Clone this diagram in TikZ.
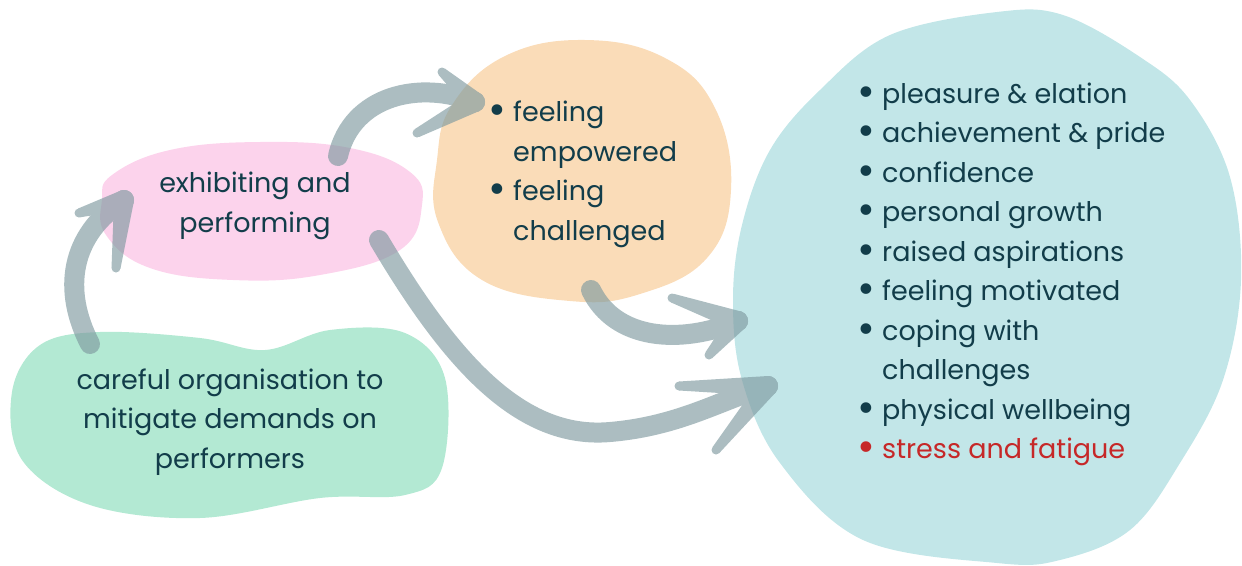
\documentclass[tikz,border=0pt]{standalone}
\usepackage{fontspec}
\usepackage{graphicx}
\setmainfont{Poppins}
\usetikzlibrary{calc}
\definecolor{txt}{HTML}{123D4A}
\definecolor{redtxt}{HTML}{C62828}
\definecolor{blobgreen}{HTML}{B3E9D3}
\definecolor{blobpink}{HTML}{FCD3EC}
\definecolor{bloborange}{HTML}{FADCB8}
\definecolor{blobteal}{HTML}{C2E6E8}
\definecolor{arrowgray}{HTML}{7F9AA0}
\newcommand\mybul{\makebox[20pt][l]{\hspace{-5pt}\raisebox{-3pt}{\scalebox{1.6}{\textbullet}}}}
\tikzset{
  lbl/.style={text=txt, font=\fontsize{27}{39.5}\selectfont, inner sep=0pt},
  shaft/.style={draw=arrowgray, line width=20pt, line cap=round},
  arrowgrp/.style={transparency group, opacity=0.65}
}
\newcommand\taperbarb[2]{%
  \fill[arrowgray] ($(#1)!10pt!90:(#2)$) -- ($(#2)!4.5pt!-90:(#1)$) -- ($(#2)!4.5pt!90:(#1)$) -- ($(#1)!10pt!-90:(#2)$) -- cycle;
  \fill[arrowgray] (#2) circle (4.5pt);
  \fill[arrowgray] (#1) circle (10pt);}
\newcommand\headat[3]{\taperbarb{#1}{#2}\taperbarb{#1}{#3}}
\begin{document}
\begin{tikzpicture}[x=1pt,y=-1pt]
\useasboundingbox (0,0) rectangle (1242,565);
% blobs
\fill[blobgreen] plot[smooth cycle, tension=0.6] coordinates {(100,332) (200,338) (265,350) (330,330) (405,333) (445,378) (442,468) (405,495) (320,498) (200,518) (90,505) (22,460) (12,392) (40,345)};
\fill[blobpink] plot[smooth cycle, tension=0.7] coordinates {(112,175) (170,150) (260,142) (350,148) (410,172) (422,205) (400,250) (320,275) (233,280) (150,268) (106,235) (102,200)};
\fill[bloborange] plot[smooth cycle, tension=0.7] coordinates {(452,105) (505,56) (585,40) (665,58) (715,108) (731,190) (707,258) (640,294) (570,301) (482,280) (438,222) (437,160)};
\fill[blobteal] plot[smooth cycle, tension=0.6] coordinates {(742,225) (770,150) (820,90) (890,35) (997,12) (1063,15) (1140,57) (1190,100) (1230,177) (1241,280) (1223,380) (1180,463) (1130,530) (1060,560) (997,563) (863,540) (780,463) (742,380) (733,300)};
% texts
\node[lbl, align=center] (green) at (230,422) {careful organisation to\\mitigate demands on\\performers};
\node[lbl, align=center] (pink) at (255,206) {exhibiting and\\performing};
\node[lbl, anchor=north west] (orange) at (493,94) {%
\begin{tabular}{@{}l@{}l@{}}
\mybul & feeling\\
 & empowered\\
\mybul & feeling\\
 & challenged
\end{tabular}};
\node[lbl, anchor=north west] (teal) at (862,75.5) {%
\begin{tabular}{@{}l@{}l@{}}
\mybul & pleasure \& elation\\
\mybul & achievement \& pride\\
\mybul & confidence\\
\mybul & personal growth\\
\mybul & raised aspirations\\
\mybul & feeling motivated\\
\mybul & coping with\\
 & challenges\\
\mybul & physical wellbeing\\
\color{redtxt}\mybul & \color{redtxt}stress and fatigue
\end{tabular}};
% arrow coordinates
\coordinate (a1s) at (90,344);
\coordinate (a1t) at (124,200);
\coordinate (a1b1) at (79,213);
\coordinate (a1b2) at (116,268);
\coordinate (a2s) at (338,156);
\coordinate (a2t) at (475,102);
\coordinate (a2b1) at (442,72);
\coordinate (a2b2) at (417,133);
\coordinate (a3s) at (591,290);
\coordinate (a3t) at (738,321);
\coordinate (a3b1) at (672,298);
\coordinate (a3b2) at (709,355);
\coordinate (a4s) at (379,240);
\coordinate (a4t) at (768,386);
\coordinate (a4b1) at (679,386);
\coordinate (a4b2) at (716,450);
% arrows
\begin{scope}[arrowgrp]
\draw[shaft] (a1s) .. controls (62,290) and (70,235) .. (a1t);
\headat{a1t}{a1b1}{a1b2}
\end{scope}
\begin{scope}[arrowgrp]
\draw[shaft] (a2s) .. controls (352,95) and (420,80) .. (a2t);
\headat{a2t}{a2b1}{a2b2}
\end{scope}
\begin{scope}[arrowgrp]
\draw[shaft] (a3s) .. controls (615,340) and (680,345) .. (a3t);
\headat{a3t}{a3b1}{a3b2}
\end{scope}
\begin{scope}[arrowgrp]
\draw[shaft] (a4s) .. controls (450,360) and (520,440) .. (610,432) .. controls (680,426) and (720,400) .. (a4t);
\headat{a4t}{a4b1}{a4b2}
\end{scope}
\end{tikzpicture}
\end{document}
